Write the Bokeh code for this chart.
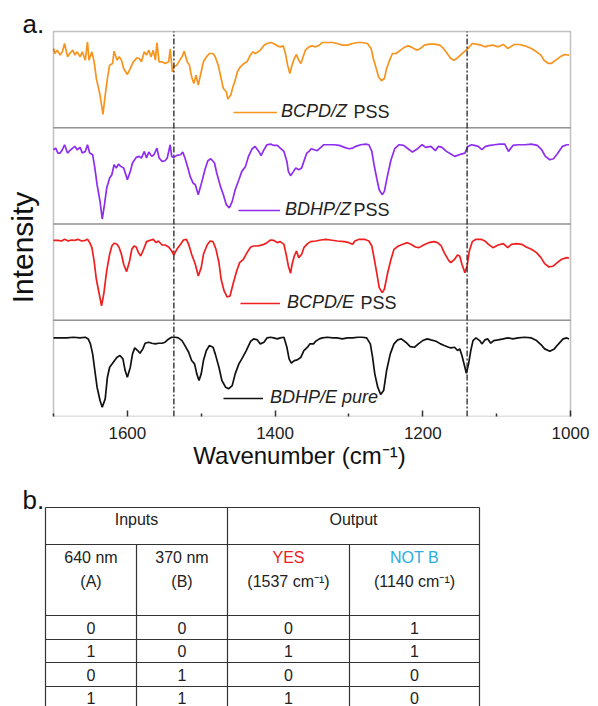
import numpy as np
from bokeh.plotting import figure
from bokeh.models import Range1d, Label, Legend, LegendItem, FixedTicker, ColumnDataSource, BoxAnnotation
from bokeh.layouts import column
from bokeh.embed import file_html
from bokeh.resources import INLINE
from bokeh.core.properties import value

FONT = "Liberation Sans"

# ---------------- data (wavenumber in cm-1, intensity in a.u.) ----------------
bcpd_z_wn = [1700,1698,1695,1691,1688,1685,1681,1678,1674,1671,
             1668,1664,1661,1657,1654,1652,1648,1645,1642,1637,
             1633,1630,1627,1624,1620,1618,1614,1611,1608,1605,
             1600,1596,1592,1587,1584,1581,1577,1574,1571,1568,
             1565,1562,1560,1557,1553,1549,1544,1542,1539,1537,
             1533,1529,1526,1523,1519,1516,1513,1510,1507,1504,
             1500,1497,1493,1489,1484,1481,1477,1473,1470,1466,
             1464,1460,1457,1454,1451,1447,1442,1438,1433,1430,
             1427,1423,1420,1415,1411,1406,1402,1397,1393,1389,
             1386,1383,1380,1377,1374,1371,1368,1365,1362,1359,
             1354,1350,1345,1340,1336,1329,1322,1316,1309,1302,
             1295,1288,1282,1275,1270,1267,1263,1260,1256,1252,
             1249,1244,1241,1236,1232,1226,1220,1216,1211,1207,
             1202,1198,1191,1184,1177,1172,1167,1162,1158,1154,
             1149,1143,1138,1133,1128,1121,1116,1112,1105,1098,
             1091,1085,1081,1076,1069,1062,1053,1046,1040,1036,
             1030,1026,1020,1014,1008,1002]
bcpd_z_int = [238,223,233,218,228,253,213,223,233,218,
              228,213,228,203,258,203,228,198,148,98,
              40,98,148,188,193,230,203,213,203,178,
              160,178,198,210,208,198,228,218,233,213,
              233,203,256,198,198,193,198,236,168,183,
              188,203,213,230,198,188,153,133,158,128,
              168,198,213,223,223,213,188,148,118,108,
              86,98,123,143,168,183,193,198,220,228,
              223,228,233,248,253,256,253,246,243,246,
              223,188,163,188,208,220,203,193,213,233,
              243,246,243,248,256,256,256,253,248,248,
              253,256,256,253,238,208,178,153,141,148,
              178,208,223,223,230,240,246,243,236,233,
              240,248,251,251,248,238,223,208,203,208,
              218,230,240,253,251,248,243,246,248,243,
              250,238,243,250,250,246,238,228,218,203,
              193,193,203,213,220,218]

bdhp_z_wn = [1700,1697,1694,1691,1688,1685,1681,1678,1674,1671,
             1668,1664,1661,1657,1654,1651,1647,1644,1641,1637,
             1634,1631,1628,1624,1621,1618,1615,1612,1609,1605,
             1602,1600,1596,1593,1588,1584,1581,1577,1574,1571,
             1567,1564,1560,1557,1553,1549,1546,1542,1540,1537,
             1533,1528,1525,1522,1518,1515,1511,1508,1504,1499,
             1495,1491,1487,1482,1479,1474,1470,1466,1462,1458,
             1454,1449,1445,1440,1436,1431,1427,1422,1419,1415,
             1411,1406,1402,1397,1393,1388,1384,1382,1379,1375,
             1372,1368,1364,1361,1357,1354,1351,1347,1343,1338,
             1334,1327,1320,1313,1306,1300,1295,1291,1284,1277,
             1273,1269,1266,1262,1259,1255,1252,1248,1243,1238,
             1232,1226,1220,1214,1207,1201,1196,1189,1183,1179,
             1174,1168,1162,1157,1153,1148,1143,1139,1134,1130,
             1125,1120,1115,1109,1103,1096,1089,1084,1078,1071,
             1062,1053,1045,1039,1034,1028,1023,1018,1011,1005,
             1002]
bdhp_z_int = [223,228,213,213,223,238,213,220,228,233,
              223,230,213,218,238,213,208,168,118,68,
              15,58,108,138,148,178,168,180,173,168,
              148,133,158,183,200,203,198,218,198,216,
              203,208,228,198,188,190,198,238,203,200,
              206,208,216,198,168,143,123,118,88,128,
              163,190,196,183,153,113,88,58,48,68,
              103,133,158,173,203,226,233,218,205,223,
              238,240,236,236,228,218,188,158,145,158,
              168,163,168,188,213,218,226,223,220,230,
              238,238,238,236,230,226,228,233,238,240,
              238,218,178,133,103,88,98,143,193,226,
              238,236,226,216,226,238,230,233,220,233,
              230,218,210,203,206,210,213,233,238,236,
              233,223,233,236,238,240,240,218,236,238,
              238,240,236,223,203,193,196,210,233,238,
              238]

bcpd_e_wn = [1700,1694,1689,1685,1680,1676,1671,1667,1662,1657,
             1654,1651,1648,1645,1642,1638,1635,1632,1628,1624,
             1621,1618,1614,1611,1608,1605,1601,1597,1594,1591,
             1588,1585,1582,1578,1574,1569,1565,1561,1558,1553,
             1549,1544,1540,1537,1533,1528,1524,1520,1517,1513,
             1508,1504,1500,1497,1492,1488,1484,1480,1476,1473,
             1469,1465,1461,1457,1452,1448,1443,1438,1433,1429,
             1424,1420,1415,1411,1406,1402,1397,1393,1388,1385,
             1382,1379,1377,1374,1371,1368,1364,1361,1356,1352,
             1345,1338,1331,1325,1316,1306,1300,1295,1292,1286,
             1279,1273,1269,1266,1262,1259,1255,1252,1248,1243,
             1239,1233,1227,1221,1216,1210,1205,1199,1192,1185,
             1180,1175,1171,1165,1162,1157,1153,1150,1147,1143,
             1140,1137,1133,1128,1121,1116,1111,1105,1098,1091,
             1085,1080,1073,1066,1060,1053,1046,1040,1035,1029,
             1023,1018,1012,1005,1002]
bcpd_e_int = [240,240,238,243,238,241,240,243,238,240,
              243,233,218,178,123,78,43,78,148,198,
              223,231,228,218,198,168,146,178,213,223,
              220,203,193,213,236,240,243,233,238,226,
              226,220,208,196,213,228,241,243,228,198,
              168,133,158,198,226,238,236,213,173,123,
              88,70,73,108,148,173,183,203,220,223,
              223,225,228,233,241,240,233,236,228,198,
              163,141,168,193,208,188,198,218,230,236,
              238,241,243,241,238,236,233,228,238,243,
              243,238,223,188,138,98,83,93,138,183,
              213,223,228,233,228,220,218,226,233,236,
              233,223,203,180,173,183,196,193,168,143,
              163,208,236,243,243,238,228,218,226,230,
              218,228,230,228,220,213,203,188,170,160,
              163,173,183,188,186]

bdhp_e_wn = [1700,1691,1682,1673,1664,1657,1653,1650,1647,1644,
             1641,1637,1634,1630,1627,1624,1619,1614,1610,1606,
             1603,1600,1596,1593,1590,1586,1583,1579,1576,1571,
             1567,1562,1558,1553,1549,1544,1540,1535,1531,1526,
             1522,1517,1513,1509,1506,1503,1500,1497,1493,1489,
             1484,1481,1476,1472,1467,1463,1458,1454,1449,1445,
             1439,1433,1429,1424,1420,1415,1411,1406,1402,1397,
             1393,1388,1384,1381,1378,1374,1370,1365,1361,1356,
             1353,1348,1345,1340,1336,1329,1322,1316,1309,1302,
             1295,1288,1282,1276,1271,1268,1265,1261,1257,1253,
             1249,1244,1239,1234,1229,1223,1217,1211,1206,1200,
             1194,1189,1182,1176,1171,1165,1162,1157,1153,1150,
             1147,1143,1141,1138,1135,1132,1128,1123,1120,1116,
             1112,1108,1104,1098,1091,1085,1078,1071,1062,1053,
             1046,1040,1035,1028,1022,1017,1010,1005,1002]
bdhp_e_int = [236,236,236,238,236,238,233,218,188,138,
              88,48,28,53,118,148,163,178,183,173,
              138,118,148,188,206,198,190,203,220,223,
              220,218,220,220,223,233,238,238,236,228,
              213,193,168,158,128,108,128,168,198,213,
              208,188,148,108,88,83,93,128,158,173,
              198,226,233,230,218,223,236,238,236,233,
              236,238,208,173,160,168,170,178,198,208,
              218,218,226,233,236,238,236,236,233,236,
              236,238,238,236,218,178,128,88,66,78,
              138,188,218,230,233,223,210,208,218,228,
              233,230,226,218,213,208,206,208,198,203,
              183,148,130,158,198,228,236,228,218,230,
              233,220,228,230,233,236,233,236,238,236,
              228,216,203,196,203,216,233,236,233]

series_names = ["BCPD/Z", "BDHP/Z", "BCPD/E", "BDHP/E pure"]
series_suffix = ["PSS", "PSS", "PSS", ""]
series_colors = ["#F7941D", "#8E2DF0", "#F01E1E", "#111111"]
series_wn = [bcpd_z_wn, bdhp_z_wn, bcpd_e_wn, bdhp_e_wn]
series_int = [bcpd_z_int, bdhp_z_int, bcpd_e_int, bdhp_e_int]

marker_wavenumbers = [1537, 1140]
x_major_ticks = [1600, 1400, 1200, 1000]
x_minor_ticks = [1700, 1500, 1300, 1100]
x_lo, x_hi = 1700, 1000

# table data
table_groups = ["Inputs", "Output"]
table_titles = ["640 nm", "370 nm", "YES", "NOT B"]
table_subtitles = ["(A)", "(B)", "(1537 cm\u207b\u00b9)", "(1140 cm\u207b\u00b9)"]
table_title_colors = ["#222222", "#222222", "#ED1C24", "#29ABE2"]
input_a = [0, 1, 0, 1]
input_b = [0, 0, 1, 1]
output_yes = [0, 1, 0, 1]
output_not_b = [1, 1, 0, 0]

# ---------------- layout constants (pixels) ----------------
FIG_W = 598
PLOT_L, PLOT_R, PLOT_T, PLOT_B = 53, 570, 31, 416   # panel box in canvas px
AXIS_SPACE = 64
H = 289                   # vertical extent of one panel (a.u.)
n = len(series_names)

sx = (PLOT_R - PLOT_L) / (x_lo - x_hi)          # px per cm-1
sy = (PLOT_B - PLOT_T) / (n * H)                # px per a.u.
x_start = x_lo + PLOT_L / sx
x_end = x_hi - (FIG_W - PLOT_R) / sx
y_end = n * H + PLOT_T / sy

p = figure(frame_width=FIG_W, frame_height=PLOT_B,
           x_range=Range1d(x_start, x_end), y_range=Range1d(0, y_end),
           output_backend="svg", toolbar_location=None,
           min_border_left=0, min_border_right=0, min_border_top=0, min_border_bottom=AXIS_SPACE)
p.grid.visible = False
p.yaxis.visible = False
p.outline_line_color = None
p.background_fill_color = "white"
p.border_fill_color = "white"

ax = p.xaxis[0]
ax.ticker = FixedTicker(ticks=x_major_ticks, minor_ticks=x_minor_ticks)
ax.axis_line_color = None
ax.major_tick_in = 6
ax.major_tick_out = 0
ax.minor_tick_in = 3
ax.minor_tick_out = 0
ax.major_tick_line_color = "#333333"
ax.minor_tick_line_color = "#333333"
ax.major_tick_line_width = 1.5
ax.minor_tick_line_width = 1.5
ax.major_label_standoff = 10
ax.major_label_text_font = FONT
ax.major_label_text_font_size = "17px"
ax.major_label_text_color = "#222222"
ax.axis_label = "Wavenumber (cm\u207b\u00b9)"
ax.axis_label_text_font = FONT
ax.axis_label_text_font_size = "24px"
ax.axis_label_text_font_style = "normal"
ax.axis_label_text_color = "#111111"
ax.axis_label_standoff = 0

# panel boxes
for k in range(n):
    p.add_layout(BoxAnnotation(left=x_lo, right=x_hi, bottom=k * H, top=(k + 1) * H,
                               fill_color=None, fill_alpha=0,
                               line_color="#333333", line_width=1.5))

# legend layout (canvas px): line start x, line y from plot bottom, line length, text gap, suffix x
legend_layout = [(233, 304, 44, 4, 353),
                 (238, 206, 42, 5, 353),
                 (240, 113, 40, 7, 360),
                 (223, 18, 40, 7, 0)]

for i in range(n):
    offset = (n - 1 - i) * H
    y = np.array(series_int[i], dtype=float) + offset
    r = p.line(series_wn[i], y, line_color=series_colors[i], line_width=1.7)
    lx, ly, gw, st, suf_x = legend_layout[i]
    leg = Legend(items=[LegendItem(label=series_names[i], renderers=[r])],
                 location=(lx, ly - 10), orientation="vertical",
                 padding=0, margin=0, spacing=0,
                 glyph_width=gw, glyph_height=20, label_height=20, label_standoff=st,
                 label_text_font=FONT, label_text_font_size="18px",
                 label_text_font_style="italic", label_text_color="#222222",
                 border_line_color=None, background_fill_alpha=0)
    p.add_layout(leg)
    if series_suffix[i]:
        p.add_layout(Label(x=suf_x, y=ly + 1, x_units="screen", y_units="screen",
                           text=series_suffix[i], text_font=FONT, text_font_size="18px",
                           text_color="#222222", text_baseline="middle", text_align="left"))

p.segment(x0=marker_wavenumbers, y0=[0] * len(marker_wavenumbers),
          x1=marker_wavenumbers, y1=[n * H] * len(marker_wavenumbers),
          line_color="#222222", line_width=1.3, line_dash="6 2 2 2")

p.add_layout(Label(x=22, y=PLOT_B - 23, x_units="screen", y_units="screen", text="a.",
                   text_font=FONT, text_font_size="26px", text_color="#111111",
                   text_baseline="middle", text_align="left"))
p.add_layout(Label(x=22, y=PLOT_B - 247, x_units="screen", y_units="screen", text="Intensity",
                   angle=np.pi / 2, text_font=FONT, text_font_size="30px", text_color="#111111",
                   text_baseline="middle", text_align="center"))

# ---------------- table figure ----------------
FIG1_H = PLOT_B + AXIS_SPACE
TW, TH = FIG_W, 706 - FIG1_H
t = figure(frame_width=TW, frame_height=TH, x_range=Range1d(0, TW), y_range=Range1d(TH, 0),
           x_axis_type=None, y_axis_type=None, output_backend="svg",
           toolbar_location=None, min_border=0, outline_line_color=None)
t.grid.visible = False
t.background_fill_color = "white"
t.border_fill_color = "white"

dy = -FIG1_H  # convert canvas y to table-figure y
col_edges = [45, 136, 227, 349, 479]
row_edges = [v + dy for v in [507, 544, 615, 639, 662, 686, 709]]

x0s, y0s, x1s, y1s = [], [], [], []
for yy in row_edges:
    x0s.append(col_edges[0]); x1s.append(col_edges[-1]); y0s.append(yy); y1s.append(yy)
for j, xx in enumerate(col_edges):
    top = row_edges[0] if j in (0, 2, 4) else row_edges[1]
    x0s.append(xx); x1s.append(xx); y0s.append(top); y1s.append(row_edges[-1])
t.segment(x0s, y0s, x1s, y1s, line_color="#333333", line_width=1.2)

col_centers = [(col_edges[j] + col_edges[j + 1]) / 2 for j in range(4)]
group_centers = [(col_edges[0] + col_edges[2]) / 2, (col_edges[2] + col_edges[4]) / 2]

txt_x, txt_y, txt, txt_c = [], [], [], []
for g, gx in zip(table_groups, group_centers):
    txt_x.append(gx); txt_y.append(519 + dy); txt.append(g); txt_c.append("#222222")
for j in range(4):
    txt_x.append(col_centers[j]); txt_y.append(557 + dy); txt.append(table_titles[j]); txt_c.append(table_title_colors[j])
    txt_x.append(col_centers[j]); txt_y.append(581 + dy); txt.append(table_subtitles[j]); txt_c.append("#222222")
columns = [input_a, input_b, output_yes, output_not_b]
for r_i in range(4):
    yc = (row_edges[2 + r_i] + row_edges[3 + r_i]) / 2
    for j in range(4):
        txt_x.append(col_centers[j]); txt_y.append(yc); txt.append(str(columns[j][r_i])); txt_c.append("#222222")

src = ColumnDataSource(dict(x=txt_x, y=txt_y, text=txt, color=txt_c))
t.text(x="x", y="y", text="text", text_color="color", source=src,
       text_font=value(FONT), text_font_size="16px", text_align="center", text_baseline="middle")

t.text(x=[22], y=[499 + dy], text=["b."], text_font=value(FONT), text_font_size="26px",
       text_color="#111111", text_align="left", text_baseline="middle")

layout = column(p, t, spacing=0)
open("out.html", "w").write(file_html(layout, INLINE))
